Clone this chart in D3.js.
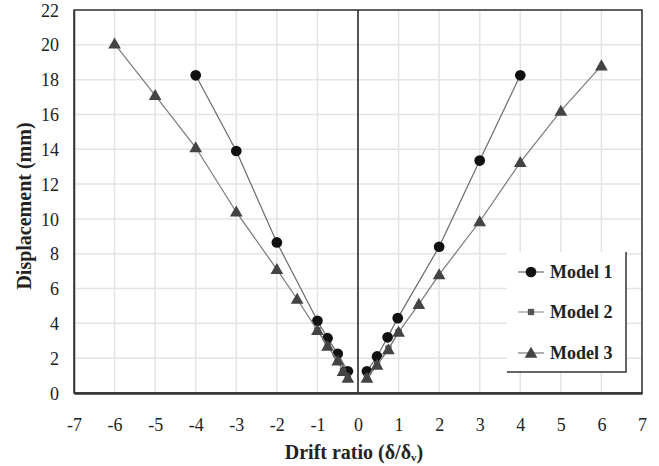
<!DOCTYPE html>
<html><head><meta charset="utf-8">
<script src="https://cdn.jsdelivr.net/npm/d3@7"></script>
<style>body{margin:0;background:#fff}svg{display:block}text{font-family:'Liberation Serif','Times New Roman',serif}</style>
</head><body>
<svg id="c" width="659" height="466"></svg>
<script>
// ---- data ----
const xTicks = [-7,-6,-5,-4,-3,-2,-1,0,1,2,3,4,5,6,7];
const yTicks = [0,2,4,6,8,10,12,14,16,18,20,22];
const m1LeftX = [-4,-3,-2,-1,-0.75,-0.5,-0.25];
const m1LeftY = [18.25,13.9,8.65,4.15,3.15,2.25,1.25];
const m1RightX = [0.22,0.47,0.73,0.98,2,3,4];
const m1RightY = [1.25,2.1,3.2,4.3,8.4,13.35,18.25];
const m2LeftX = [-1,-0.75,-0.5,-0.37,-0.25];
const m2LeftY = [3.6,2.7,1.85,1.25,0.9];
const m2RightX = [0.22,0.47,0.75,1];
const m2RightY = [0.9,1.65,2.55,3.5];
const m3LeftX = [-6,-5,-4,-3,-2,-1.5,-1,-0.75,-0.5,-0.37,-0.25];
const m3LeftY = [20.05,17.1,14.1,10.4,7.1,5.4,3.6,2.7,1.85,1.25,0.85];
const m3RightX = [0.22,0.47,0.75,1,1.5,2,3,4,5,6];
const m3RightY = [0.85,1.6,2.5,3.5,5.1,6.8,9.85,13.25,16.2,18.8];
const seriesNames = ["Model 1","Model 2","Model 3"];

const svg = d3.select("#c");
const L=74,R=642,T=10,B=393;
const x = d3.scaleLinear().domain([-7,7]).range([L,R]);
const y = d3.scaleLinear().domain([0,22]).range([B,T]);
const serif = "'Liberation Serif','Times New Roman',serif";

// grid
svg.append("g").selectAll("line").data(xTicks).join("line")
  .attr("x1",d=>x(d)).attr("x2",d=>x(d)).attr("y1",T).attr("y2",B)
  .attr("stroke","#e4e4e4").attr("stroke-width",1.5);
svg.append("g").selectAll("line").data(yTicks).join("line")
  .attr("x1",L).attr("x2",R).attr("y1",d=>y(d)).attr("y2",d=>y(d))
  .attr("stroke","#e4e4e4").attr("stroke-width",1.5);

// frame
svg.append("rect").attr("x",L).attr("y",T).attr("width",R-L).attr("height",B-T)
  .attr("fill","none").attr("stroke","#333").attr("stroke-width",1.5);
// zero line
svg.append("line").attr("x1",x(0)).attr("x2",x(0)).attr("y1",T).attr("y2",B)
  .attr("stroke","#222").attr("stroke-width",1.5);

// axes (labels only)
const xAxis = d3.axisBottom(x).tickValues(xTicks).tickSize(0).tickPadding(0).tickFormat(d=>String(d));
const gx = svg.append("g").attr("transform",`translate(0,${B})`).call(xAxis);
gx.attr("font-family",null);
gx.select(".domain").attr("stroke","#333").attr("stroke-width",2.5);
gx.selectAll("text").attr("y",38).attr("dy",0).style("font-family",serif).style("font-size","18px").attr("fill","#222");
const yAxis = d3.axisLeft(y).tickValues(yTicks).tickSize(0).tickPadding(15).tickFormat(d=>String(d));
const gy = svg.append("g").attr("transform",`translate(${L},0)`).call(yAxis);
gy.attr("font-family",null);
gy.select(".domain").attr("stroke","#333").attr("stroke-width",1.5);
gy.selectAll("text").style("font-family",serif).style("font-size","18px").attr("fill","#222").attr("dy","0.34em");

// titles
const xt = svg.append("text").attr("x",354).attr("y",459).attr("text-anchor","middle")
  .style("font-family",serif).style("font-size","20px").attr("font-weight","bold").attr("fill","#222");
xt.append("tspan").text("Drift ratio (δ/δ");
xt.append("tspan").text("v").style("font-size","11px").attr("dy",2);
xt.append("tspan").text(")").attr("dy",-2);
svg.append("text").attr("transform",`translate(31,206) rotate(-90)`).attr("text-anchor","middle")
  .style("font-family",serif).style("font-size","20px").attr("font-weight","bold").attr("fill","#222")
  .text("Displacement (mm)");

// series
const line = d3.line().x(d=>x(d[0])).y(d=>y(d[1]));
const zip = (a,b)=>a.map((v,i)=>[v,b[i]]);
const series = [
  {name:seriesNames[0], parts:[zip(m1LeftX,m1LeftY),zip(m1RightX,m1RightY)], line:"#6a6a6a", fill:"#111", shape:"circle"},
  {name:seriesNames[1], parts:[zip(m2LeftX,m2LeftY),zip(m2RightX,m2RightY)], line:"#999", fill:"#555", shape:"square"},
  {name:seriesNames[2], parts:[zip(m3LeftX,m3LeftY),zip(m3RightX,m3RightY)], line:"#7a7a7a", fill:"#444", shape:"triangle"}
];
const sym = {circle:d3.symbol(d3.symbolCircle,90), square:d3.symbol(d3.symbolSquare,40), triangle:d3.symbol(d3.symbolTriangle,70)};
series.forEach(s=>{
  const g = svg.append("g");
  s.parts.forEach(p=>g.append("path").attr("d",line(p)).attr("fill","none").attr("stroke",s.line).attr("stroke-width",1.2));
  s.parts.forEach(p=>g.selectAll(null).data(p).join("path")
    .attr("d",sym[s.shape]()).attr("transform",d=>`translate(${x(d[0])},${y(d[1])+(s.shape==="triangle"?1:0)})`)
    .attr("fill",s.fill));
});

// legend
const lg = svg.append("g");
lg.append("rect").attr("x",507).attr("y",252).attr("width",119).attr("height",120).attr("fill","#fff");
lg.append("path").attr("d","M626,252V372H507").attr("fill","none").attr("stroke","#333").attr("stroke-width",1.5);
const ly = [272,312,353];
series.forEach((s,i)=>{
  lg.append("line").attr("x1",518).attr("x2",544).attr("y1",ly[i]).attr("y2",ly[i]).attr("stroke",s.line).attr("stroke-width",1.2);
  lg.append("path").attr("d",sym[s.shape]()).attr("transform",`translate(531,${ly[i]+(s.shape==="triangle"?1:0)})`).attr("fill",s.fill);
  lg.append("text").attr("x",550).attr("y",ly[i]).attr("dy","0.35em").style("font-family",serif).style("font-size","18px")
    .attr("font-weight","bold").attr("fill","#222").text(s.name);
});
</script>
</body></html>
